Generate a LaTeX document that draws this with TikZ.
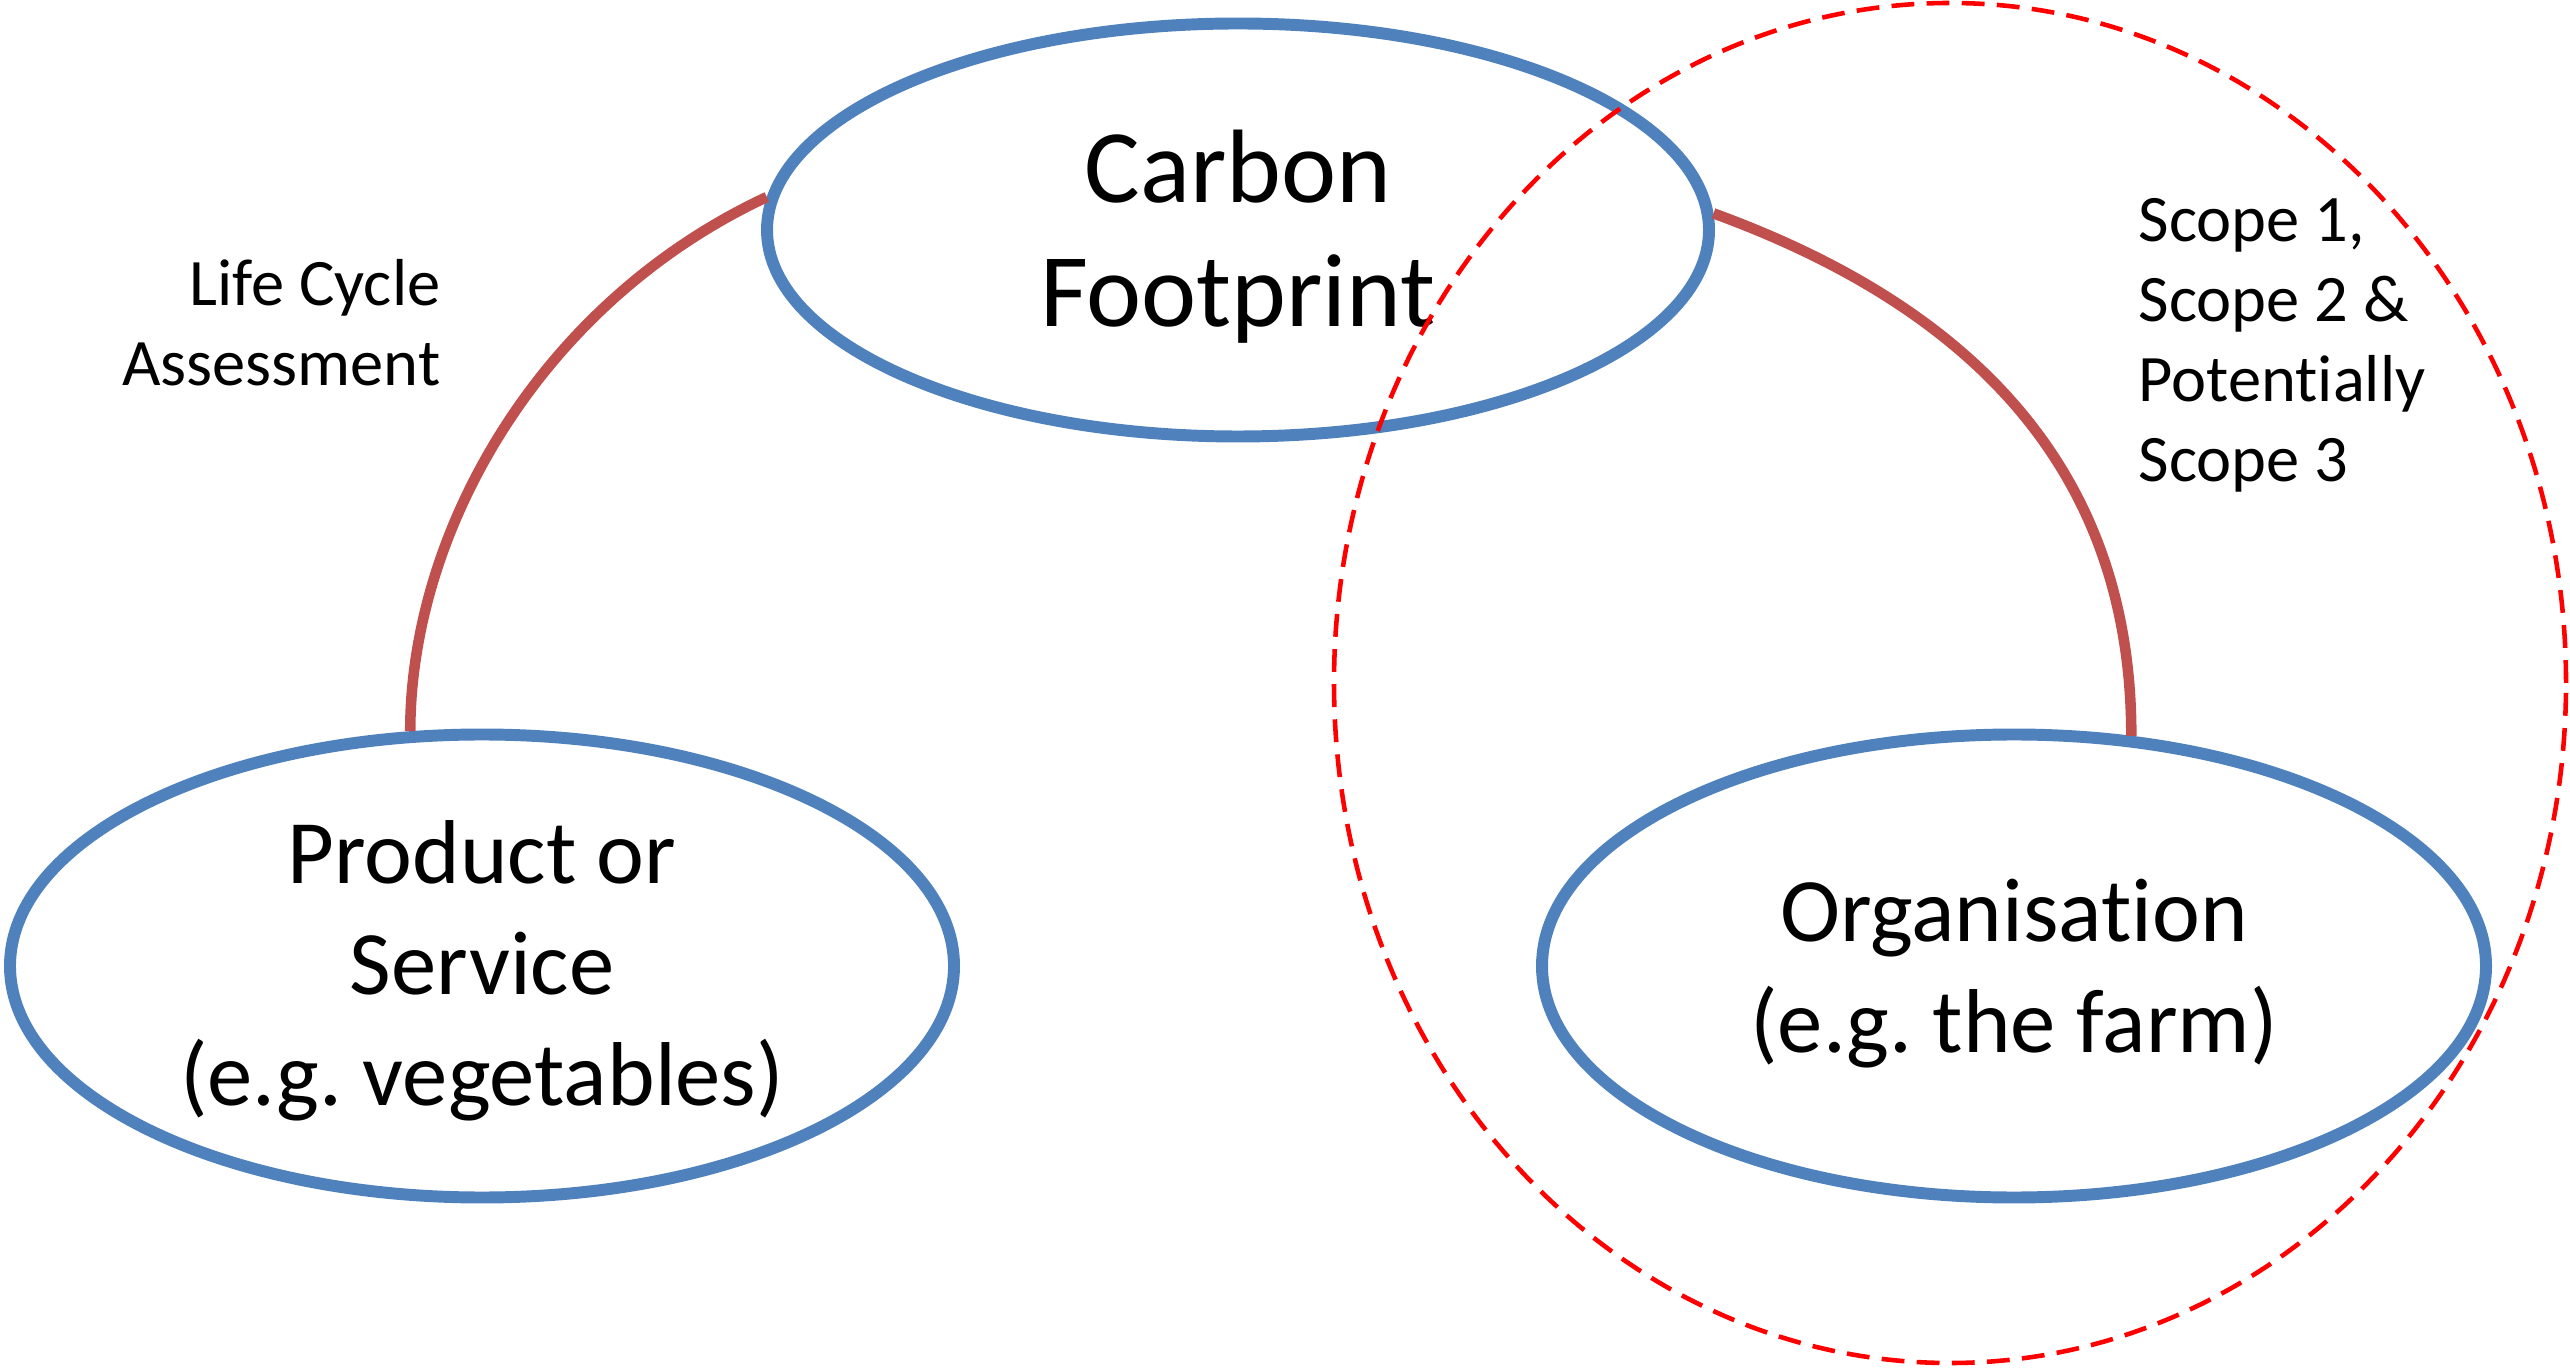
\documentclass[tikz,border=0pt]{standalone}
\usepackage{fontspec}
\setmainfont{Carlito}[Ligatures=NoCommon]
\usepackage{tikz}
\definecolor{officeblue}{RGB}{79,129,189}
\definecolor{officered}{RGB}{192,80,77}
\definecolor{scopered}{RGB}{255,0,0}
\usetikzlibrary{shapes.geometric,positioning}
\frenchspacing

\tikzset{
	footprint/.style={ellipse,draw=officeblue,line width=3.4pt,fill=white,inner sep=0pt,minimum width=9.44cm,minimum height=4.63cm},
	bigtext/.style={align=center,inner sep=0pt,font=\fontsize{29.7}{35.5}\selectfont},
	midtext/.style={align=center,inner sep=0pt,font=\fontsize{25.8}{31.5}\selectfont},
	link/.style={draw=officered,line width=3pt},
	remark/.style={inner sep=0pt,font=\fontsize{18.9}{22.8}\selectfont},
}

\begin{document}
\begin{tikzpicture}[scale=1]
	\useasboundingbox (0,0) rectangle (25.70,13.71);

	\node[footprint,minimum width=9.42cm,minimum height=4.13cm] (cf) at (12.38,11.41) {};
	\node[footprint] (prod) at (4.82,4.05) {};
	\node[footprint] (org) at (20.14,4.05) {};

	\node[bigtext,anchor=base] (cftext) at (12.38,10.44) {Carbon\\Footprint};
	\node[midtext,anchor=base] (prodtext) at (4.82,2.66) {Product or\\Service\\(e.g. vegetables)};
	\node[midtext,anchor=base] (orgtext) at (20.14,3.19) {Organisation\\(e.g. the farm)};

	\draw[link] (cf.176) to[out=205,in=90,out distance=2.5cm,in distance=2cm] (prod.107);
	\draw[link] (cf.2.5) to[out=-20,in=90,out distance=3.5cm,in distance=2cm] (org.63.5);

	\node[remark,anchor=base east,align=right] (lca) at (4.41,9.85) {Life Cycle\\Assessment};
	\node[remark,anchor=base west,align=left] (scopes) at (21.38,8.89) {Scope 1,\\Scope 2 \&\\Potentially\\Scope 3};

	\draw[scopered,line width=1.3pt,dash pattern=on 6.5pt off 3.5pt] (19.50,6.88) ellipse (6.16 and 6.80);

\end{tikzpicture}
\end{document}
